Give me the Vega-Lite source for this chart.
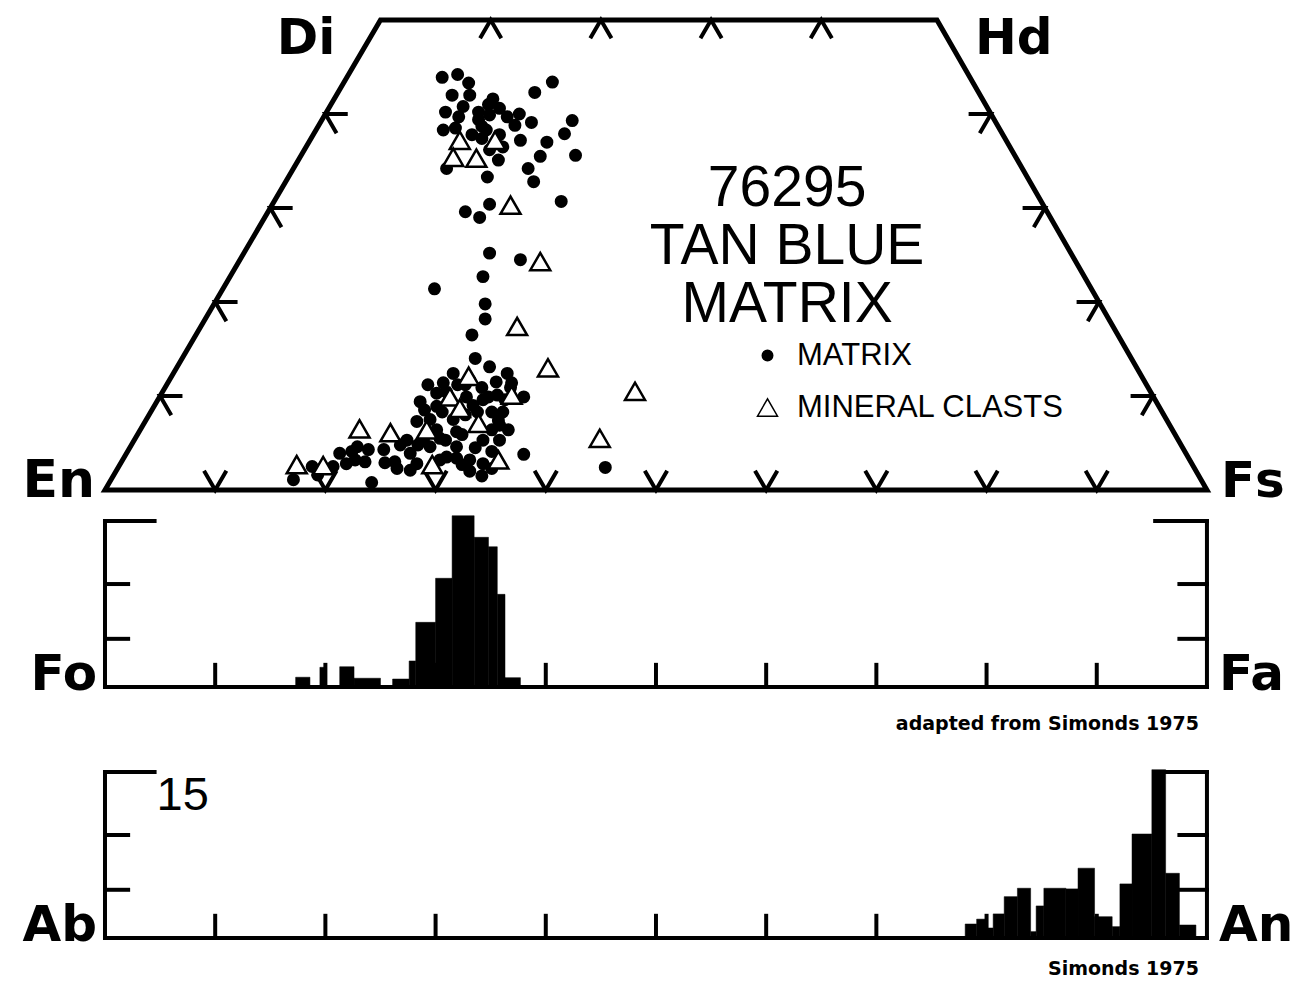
{
  "$schema": "https://vega.github.io/schema/vega-lite/v6.json",
  "width": 1308,
  "height": 982,
  "autosize": {"type": "none"},
  "padding": 0,
  "background": "white",
  "config": {"view": {"stroke": null}, "font": "Liberation Sans"},
  "datasets": {
    "quad": [
      {"x": 50, "Wo": 0, "o": 0}, {"x": 0, "Wo": 0, "o": 1}, {"x": 25, "Wo": 50, "o": 2},
      {"x": 75.5, "Wo": 50, "o": 3}, {"x": 100, "Wo": 0, "o": 4}, {"x": 50, "Wo": 0, "o": 5}
    ],
    "pyxticks": [
      {"x": 10, "Wo": 0, "side": "bottom"}, {"x": 20, "Wo": 0, "side": "bottom"}, {"x": 30, "Wo": 0, "side": "bottom"},
      {"x": 40, "Wo": 0, "side": "bottom"}, {"x": 50, "Wo": 0, "side": "bottom"}, {"x": 60, "Wo": 0, "side": "bottom"},
      {"x": 70, "Wo": 0, "side": "bottom"}, {"x": 80, "Wo": 0, "side": "bottom"}, {"x": 90, "Wo": 0, "side": "bottom"},
      {"x": 35, "Wo": 50, "side": "top"}, {"x": 45, "Wo": 50, "side": "top"}, {"x": 55, "Wo": 50, "side": "top"}, {"x": 65, "Wo": 50, "side": "top"},
      {"x": 5, "Wo": 10, "side": "left"}, {"x": 10, "Wo": 20, "side": "left"}, {"x": 15, "Wo": 30, "side": "left"}, {"x": 20, "Wo": 40, "side": "left"},
      {"x": 95.1, "Wo": 10, "side": "right"}, {"x": 90.2, "Wo": 20, "side": "right"}, {"x": 85.3, "Wo": 30, "side": "right"}, {"x": 80.4, "Wo": 40, "side": "right"}
    ],
    "pyx": [
      {"x": 30.6, "Wo": 43.9, "type": "MATRIX"}, {"x": 32.0, "Wo": 44.2, "type": "MATRIX"}, {"x": 33.0, "Wo": 43.3, "type": "MATRIX"},
      {"x": 40.6, "Wo": 43.4, "type": "MATRIX"}, {"x": 39.0, "Wo": 42.3, "type": "MATRIX"}, {"x": 35.2, "Wo": 41.6, "type": "MATRIX"},
      {"x": 30.9, "Wo": 40.2, "type": "MATRIX"}, {"x": 32.5, "Wo": 40.8, "type": "MATRIX"}, {"x": 32.1, "Wo": 39.7, "type": "MATRIX"},
      {"x": 33.9, "Wo": 40.2, "type": "MATRIX"}, {"x": 34.8, "Wo": 41.0, "type": "MATRIX"}, {"x": 34.9, "Wo": 39.9, "type": "MATRIX"},
      {"x": 36.5, "Wo": 39.7, "type": "MATRIX"}, {"x": 37.6, "Wo": 40.0, "type": "MATRIX"}, {"x": 38.7, "Wo": 39.1, "type": "MATRIX"},
      {"x": 42.4, "Wo": 39.3, "type": "MATRIX"}, {"x": 41.7, "Wo": 37.9, "type": "MATRIX"}, {"x": 30.7, "Wo": 38.3, "type": "MATRIX"},
      {"x": 34.2, "Wo": 38.7, "type": "MATRIX"}, {"x": 34.2, "Wo": 37.4, "type": "MATRIX"}, {"x": 35.8, "Wo": 37.8, "type": "MATRIX"},
      {"x": 36.1, "Wo": 36.5, "type": "MATRIX"}, {"x": 40.1, "Wo": 37.0, "type": "MATRIX"}, {"x": 39.5, "Wo": 35.5, "type": "MATRIX"},
      {"x": 42.7, "Wo": 35.6, "type": "MATRIX"}, {"x": 31.0, "Wo": 34.2, "type": "MATRIX"}, {"x": 35.7, "Wo": 35.1, "type": "MATRIX"},
      {"x": 34.7, "Wo": 33.3, "type": "MATRIX"}, {"x": 38.4, "Wo": 34.2, "type": "MATRIX"}, {"x": 38.9, "Wo": 32.8, "type": "MATRIX"},
      {"x": 32.7, "Wo": 29.6, "type": "MATRIX"}, {"x": 34.0, "Wo": 29.0, "type": "MATRIX"}, {"x": 34.9, "Wo": 30.4, "type": "MATRIX"},
      {"x": 41.4, "Wo": 30.7, "type": "MATRIX"}, {"x": 34.6, "Wo": 38.3, "type": "MATRIX"}, {"x": 33.9, "Wo": 39.4, "type": "MATRIX"},
      {"x": 31.5, "Wo": 42.0, "type": "MATRIX"}, {"x": 33.1, "Wo": 42.0, "type": "MATRIX"}, {"x": 35.8, "Wo": 40.6, "type": "MATRIX"},
      {"x": 37.2, "Wo": 38.8, "type": "MATRIX"}, {"x": 31.8, "Wo": 38.5, "type": "MATRIX"}, {"x": 33.3, "Wo": 37.8, "type": "MATRIX"},
      {"x": 34.9, "Wo": 36.2, "type": "MATRIX"}, {"x": 37.7, "Wo": 37.2, "type": "MATRIX"},
      {"x": 34.9, "Wo": 25.2, "type": "MATRIX"}, {"x": 37.7, "Wo": 24.5, "type": "MATRIX"}, {"x": 34.3, "Wo": 22.7, "type": "MATRIX"},
      {"x": 29.9, "Wo": 21.4, "type": "MATRIX"}, {"x": 34.5, "Wo": 19.8, "type": "MATRIX"}, {"x": 34.5, "Wo": 18.2, "type": "MATRIX"},
      {"x": 33.3, "Wo": 16.5, "type": "MATRIX"}, {"x": 33.6, "Wo": 14.0, "type": "MATRIX"}, {"x": 34.9, "Wo": 13.1, "type": "MATRIX"},
      {"x": 17.1, "Wo": 1.1, "type": "MATRIX"}, {"x": 18.8, "Wo": 2.5, "type": "MATRIX"}, {"x": 21.3, "Wo": 3.9, "type": "MATRIX"},
      {"x": 22.4, "Wo": 4.1, "type": "MATRIX"}, {"x": 23.9, "Wo": 4.3, "type": "MATRIX"}, {"x": 21.9, "Wo": 2.8, "type": "MATRIX"},
      {"x": 20.7, "Wo": 2.5, "type": "MATRIX"}, {"x": 24.2, "Wo": 0.8, "type": "MATRIX"}, {"x": 25.3, "Wo": 4.3, "type": "MATRIX"},
      {"x": 26.3, "Wo": 3.0, "type": "MATRIX"}, {"x": 27.4, "Wo": 5.3, "type": "MATRIX"}, {"x": 28.3, "Wo": 7.3, "type": "MATRIX"},
      {"x": 28.6, "Wo": 9.4, "type": "MATRIX"}, {"x": 29.5, "Wo": 7.5, "type": "MATRIX"}, {"x": 30.1, "Wo": 6.4, "type": "MATRIX"},
      {"x": 27.7, "Wo": 3.9, "type": "MATRIX"}, {"x": 28.3, "Wo": 2.8, "type": "MATRIX"}, {"x": 31.0, "Wo": 3.5, "type": "MATRIX"},
      {"x": 31.9, "Wo": 4.6, "type": "MATRIX"}, {"x": 30.7, "Wo": 11.4, "type": "MATRIX"}, {"x": 31.6, "Wo": 12.4, "type": "MATRIX"},
      {"x": 30.1, "Wo": 10.3, "type": "MATRIX"}, {"x": 30.1, "Wo": 8.9, "type": "MATRIX"}, {"x": 33.1, "Wo": 3.2, "type": "MATRIX"},
      {"x": 33.1, "Wo": 2.0, "type": "MATRIX"}, {"x": 34.3, "Wo": 5.3, "type": "MATRIX"}, {"x": 34.3, "Wo": 2.8, "type": "MATRIX"},
      {"x": 31.6, "Wo": 7.5, "type": "MATRIX"}, {"x": 32.8, "Wo": 9.9, "type": "MATRIX"}, {"x": 34.3, "Wo": 9.6, "type": "MATRIX"},
      {"x": 36.5, "Wo": 12.4, "type": "MATRIX"}, {"x": 35.5, "Wo": 11.5, "type": "MATRIX"}, {"x": 38.0, "Wo": 9.9, "type": "MATRIX"},
      {"x": 34.8, "Wo": 9.9, "type": "MATRIX"}, {"x": 33.4, "Wo": 9.0, "type": "MATRIX"}, {"x": 35.1, "Wo": 8.3, "type": "MATRIX"},
      {"x": 36.1, "Wo": 8.3, "type": "MATRIX"}, {"x": 35.8, "Wo": 6.9, "type": "MATRIX"}, {"x": 30.4, "Wo": 3.2, "type": "MATRIX"},
      {"x": 35.1, "Wo": 4.1, "type": "MATRIX"}, {"x": 35.1, "Wo": 2.3, "type": "MATRIX"}, {"x": 38.0, "Wo": 3.8, "type": "MATRIX"},
      {"x": 45.4, "Wo": 2.4, "type": "MATRIX"}, {"x": 29.5, "Wo": 4.6, "type": "MATRIX"}, {"x": 28.9, "Wo": 5.3, "type": "MATRIX"},
      {"x": 30.4, "Wo": 5.5, "type": "MATRIX"}, {"x": 26.5, "Wo": 2.3, "type": "MATRIX"}, {"x": 22.7, "Wo": 3.2, "type": "MATRIX"},
      {"x": 19.3, "Wo": 1.6, "type": "MATRIX"}, {"x": 31.9, "Wo": 6.2, "type": "MATRIX"}, {"x": 32.7, "Wo": 11.2, "type": "MATRIX"},
      {"x": 36.8, "Wo": 10.9, "type": "MATRIX"},
      {"x": 29.3, "Wo": 11.2, "type": "MATRIX"}, {"x": 31.0, "Wo": 10.4, "type": "MATRIX"}, {"x": 32.0, "Wo": 11.2, "type": "MATRIX"},
      {"x": 33.1, "Wo": 11.7, "type": "MATRIX"}, {"x": 34.2, "Wo": 10.9, "type": "MATRIX"}, {"x": 35.6, "Wo": 10.1, "type": "MATRIX"},
      {"x": 36.3, "Wo": 9.6, "type": "MATRIX"}, {"x": 36.9, "Wo": 11.4, "type": "MATRIX"}, {"x": 29.0, "Wo": 8.5, "type": "MATRIX"},
      {"x": 30.6, "Wo": 8.3, "type": "MATRIX"}, {"x": 32.7, "Wo": 8.0, "type": "MATRIX"}, {"x": 33.8, "Wo": 8.3, "type": "MATRIX"},
      {"x": 35.7, "Wo": 7.4, "type": "MATRIX"}, {"x": 36.6, "Wo": 6.4, "type": "MATRIX"}, {"x": 30.9, "Wo": 5.3, "type": "MATRIX"},
      {"x": 32.4, "Wo": 5.9, "type": "MATRIX"}, {"x": 33.6, "Wo": 4.5, "type": "MATRIX"}, {"x": 35.8, "Wo": 5.3, "type": "MATRIX"},
      {"x": 32.4, "Wo": 2.7, "type": "MATRIX"}, {"x": 34.2, "Wo": 1.5, "type": "MATRIX"}, {"x": 31.9, "Wo": 3.4, "type": "MATRIX"},
      {"x": 28.4, "Wo": 4.8, "type": "MATRIX"}, {"x": 26.8, "Wo": 4.8, "type": "MATRIX"}, {"x": 25.4, "Wo": 2.9, "type": "MATRIX"},
      {"x": 23.6, "Wo": 3.0, "type": "MATRIX"}, {"x": 22.9, "Wo": 4.6, "type": "MATRIX"}, {"x": 27.7, "Wo": 2.1, "type": "MATRIX"},
      {"x": 35.1, "Wo": 6.4, "type": "MATRIX"},
      {"x": 32.2, "Wo": 37.2, "type": "MINERAL CLASTS"}, {"x": 31.6, "Wo": 35.4, "type": "MINERAL CLASTS"}, {"x": 33.7, "Wo": 35.3, "type": "MINERAL CLASTS"},
      {"x": 35.4, "Wo": 37.2, "type": "MINERAL CLASTS"}, {"x": 36.8, "Wo": 30.3, "type": "MINERAL CLASTS"}, {"x": 39.5, "Wo": 24.3, "type": "MINERAL CLASTS"},
      {"x": 37.4, "Wo": 17.4, "type": "MINERAL CLASTS"}, {"x": 40.2, "Wo": 13.0, "type": "MINERAL CLASTS"}, {"x": 17.4, "Wo": 2.7, "type": "MINERAL CLASTS"},
      {"x": 19.8, "Wo": 2.6, "type": "MINERAL CLASTS"}, {"x": 23.1, "Wo": 6.5, "type": "MINERAL CLASTS"}, {"x": 25.9, "Wo": 6.1, "type": "MINERAL CLASTS"},
      {"x": 29.2, "Wo": 6.4, "type": "MINERAL CLASTS"}, {"x": 29.7, "Wo": 2.7, "type": "MINERAL CLASTS"}, {"x": 33.0, "Wo": 12.1, "type": "MINERAL CLASTS"},
      {"x": 31.3, "Wo": 9.9, "type": "MINERAL CLASTS"}, {"x": 32.2, "Wo": 8.7, "type": "MINERAL CLASTS"}, {"x": 33.9, "Wo": 7.1, "type": "MINERAL CLASTS"},
      {"x": 48.1, "Wo": 10.5, "type": "MINERAL CLASTS"}, {"x": 44.9, "Wo": 5.5, "type": "MINERAL CLASTS"}, {"x": 36.9, "Wo": 10.1, "type": "MINERAL CLASTS"},
      {"x": 35.7, "Wo": 3.2, "type": "MINERAL CLASTS"}
    ],
    "ol_bins": [
      {"a": 17.3, "b": 18.6, "n": 0.88}, {"a": 19.5, "b": 20.0, "n": 1.78}, {"a": 21.3, "b": 22.6, "n": 1.83},
      {"a": 22.6, "b": 25.0, "n": 0.79}, {"a": 26.1, "b": 27.6, "n": 0.72}, {"a": 27.6, "b": 28.2, "n": 2.35},
      {"a": 28.2, "b": 30.0, "n": 5.84}, {"a": 30.0, "b": 31.5, "n": 9.82}, {"a": 31.5, "b": 33.5, "n": 15.47},
      {"a": 33.5, "b": 34.8, "n": 13.52}, {"a": 34.8, "b": 35.6, "n": 12.67}, {"a": 35.6, "b": 36.3, "n": 8.37},
      {"a": 36.3, "b": 37.7, "n": 0.84}
    ],
    "pl_bins": [
      {"a": 78.06, "b": 79.1, "n": 1.26}, {"a": 79.1, "b": 80.0, "n": 1.7}, {"a": 80.0, "b": 80.6, "n": 0.9},
      {"a": 80.6, "b": 81.6, "n": 2.17}, {"a": 81.6, "b": 82.8, "n": 3.73}, {"a": 82.8, "b": 84.0, "n": 4.49},
      {"a": 84.0, "b": 84.5, "n": 0.57}, {"a": 84.5, "b": 85.2, "n": 2.89}, {"a": 85.2, "b": 87.2, "n": 4.49},
      {"a": 87.2, "b": 88.3, "n": 4.43}, {"a": 88.3, "b": 89.8, "n": 6.3}, {"a": 89.8, "b": 91.4, "n": 1.92},
      {"a": 91.4, "b": 92.1, "n": 1.02}, {"a": 92.1, "b": 93.2, "n": 4.88}, {"a": 93.2, "b": 95.0, "n": 9.39},
      {"a": 95.0, "b": 96.25, "n": 15.2}, {"a": 96.25, "b": 97.5, "n": 5.84}, {"a": 97.5, "b": 99.0, "n": 1.17}
    ],
    "frame": [
      {"x": 0, "y": 0, "x2": 100, "y2": 0}, {"x": 0, "y": 0, "x2": 0, "y2": 15}, {"x": 0, "y": 15, "x2": 4.5, "y2": 15},
      {"x": 0, "y": 4.35, "x2": 2.1, "y2": 4.35}, {"x": 0, "y": 9.3, "x2": 2.1, "y2": 9.3},
      {"x": 100, "y": 0, "x2": 100, "y2": 15}, {"x": 95.3, "y": 15, "x2": 100, "y2": 15},
      {"x": 97.5, "y": 4.35, "x2": 100, "y2": 4.35}, {"x": 97.5, "y": 9.3, "x2": 100, "y2": 9.3},
      {"x": 10, "y": 0, "x2": 10, "y2": 2}, {"x": 20, "y": 0, "x2": 20, "y2": 2}, {"x": 30, "y": 0, "x2": 30, "y2": 2},
      {"x": 40, "y": 0, "x2": 40, "y2": 2}, {"x": 50, "y": 0, "x2": 50, "y2": 2}, {"x": 60, "y": 0, "x2": 60, "y2": 2},
      {"x": 70, "y": 0, "x2": 70, "y2": 2}, {"x": 80, "y": 0, "x2": 80, "y2": 2}, {"x": 90, "y": 0, "x2": 90, "y2": 2}
    ]
  },
  "layer": [
    {
      "layer": [
        {
          "data": {"name": "quad"},
          "mark": {"type": "line", "color": "black", "strokeWidth": 5, "strokeJoin": "miter"},
          "encoding": {
            "x": {"field": "x", "type": "quantitative", "scale": {"domain": [-9.528, 109.17], "nice": false, "zero": false}, "axis": null},
            "y": {"field": "Wo", "type": "quantitative", "scale": {"domain": [-52.34, 52.128], "nice": false, "zero": false}, "axis": null},
            "order": {"field": "o", "type": "quantitative"}
          }
        },
        {
          "data": {"name": "pyxticks"},
          "transform": [{"filter": "datum.side == 'bottom'"}],
          "mark": {"type": "point", "shape": "M -0.5 -0.866 L 0 0 L 0.5 -0.866", "size": 2000, "filled": false, "stroke": "black", "strokeWidth": 4, "opacity": 1},
          "encoding": {
            "x": {"field": "x", "type": "quantitative", "scale": {"domain": [-9.528, 109.17], "nice": false, "zero": false}, "axis": null},
            "y": {"field": "Wo", "type": "quantitative", "scale": {"domain": [-52.34, 52.128], "nice": false, "zero": false}, "axis": null}
          }
        },
        {
          "data": {"name": "pyxticks"},
          "transform": [{"filter": "datum.side == 'top'"}],
          "mark": {"type": "point", "shape": "M -0.5 0.866 L 0 0 L 0.5 0.866", "size": 1800, "filled": false, "stroke": "black", "strokeWidth": 4, "opacity": 1},
          "encoding": {
            "x": {"field": "x", "type": "quantitative", "scale": {"domain": [-9.528, 109.17], "nice": false, "zero": false}, "axis": null},
            "y": {"field": "Wo", "type": "quantitative", "scale": {"domain": [-52.34, 52.128], "nice": false, "zero": false}, "axis": null}
          }
        },
        {
          "data": {"name": "pyxticks"},
          "transform": [{"filter": "datum.side == 'left'"}],
          "mark": {"type": "point", "shape": "M 1 0 L 0 0 L 0.5 0.866", "size": 2000, "filled": false, "stroke": "black", "strokeWidth": 4, "opacity": 1},
          "encoding": {
            "x": {"field": "x", "type": "quantitative", "scale": {"domain": [-9.528, 109.17], "nice": false, "zero": false}, "axis": null},
            "y": {"field": "Wo", "type": "quantitative", "scale": {"domain": [-52.34, 52.128], "nice": false, "zero": false}, "axis": null}
          }
        },
        {
          "data": {"name": "pyxticks"},
          "transform": [{"filter": "datum.side == 'right'"}],
          "mark": {"type": "point", "shape": "M -1 0 L 0 0 L -0.5 0.866", "size": 2000, "filled": false, "stroke": "black", "strokeWidth": 4, "opacity": 1},
          "encoding": {
            "x": {"field": "x", "type": "quantitative", "scale": {"domain": [-9.528, 109.17], "nice": false, "zero": false}, "axis": null},
            "y": {"field": "Wo", "type": "quantitative", "scale": {"domain": [-52.34, 52.128], "nice": false, "zero": false}, "axis": null}
          }
        },
        {
          "data": {"name": "pyx"},
          "mark": {"type": "point", "filled": true, "opacity": 1},
          "encoding": {
            "x": {"field": "x", "type": "quantitative", "scale": {"domain": [-9.528, 109.17], "nice": false, "zero": false}, "axis": null},
            "y": {"field": "Wo", "type": "quantitative", "scale": {"domain": [-52.34, 52.128], "nice": false, "zero": false}, "axis": null},
            "stroke": {"value": "black"},
            "strokeWidth": {"value": 2.5},
            "shape": {"field": "type", "type": "nominal", "scale": {"domain": ["MATRIX", "MINERAL CLASTS"], "range": ["circle", "triangle-up"]},
              "legend": {"title": null, "orient": "none", "legendX": 752, "legendY": 340, "labelFontSize": 31, "labelFont": "Liberation Sans", "labelColor": "black", "labelOffset": 14, "labelLimit": 500, "rowPadding": 20,
                "encode": {"symbols": {"update": {"stroke": {"value": "black"}, "strokeWidth": {"value": 3}}}}}},
            "fill": {"field": "type", "type": "nominal", "scale": {"domain": ["MATRIX", "MINERAL CLASTS"], "range": ["black", "white"]},
              "legend": {"title": null, "orient": "none", "legendX": 752, "legendY": 340, "labelFontSize": 31, "labelFont": "Liberation Sans", "labelColor": "black", "labelOffset": 14, "labelLimit": 500, "rowPadding": 20,
                "encode": {"symbols": {"update": {"stroke": {"value": "black"}, "strokeWidth": {"value": 3}}}}}},
            "size": {"field": "type", "type": "nominal", "scale": {"domain": ["MATRIX", "MINERAL CLASTS"], "range": [110, 400]},
              "legend": {"title": null, "orient": "none", "legendX": 752, "legendY": 340, "labelFontSize": 31, "labelFont": "Liberation Sans", "labelColor": "black", "labelOffset": 14, "labelLimit": 500, "rowPadding": 20,
                "encode": {"symbols": {"update": {"stroke": {"value": "black"}, "strokeWidth": {"value": 3}}}}}}
          }
        },
        {
          "data": {"values": [{"t": "title"}]},
          "mark": {"type": "text", "text": ["76295", "TAN BLUE", "MATRIX"], "align": "center", "baseline": "alphabetic", "fontSize": 57, "lineHeight": 58, "font": "Liberation Sans", "color": "black"},
          "encoding": {
            "x": {"datum": 61.9, "type": "quantitative", "scale": {"domain": [-9.528, 109.17], "nice": false, "zero": false}, "axis": null},
            "y": {"datum": 30.2, "type": "quantitative", "scale": {"domain": [-52.34, 52.128], "nice": false, "zero": false}, "axis": null}
          }
        },
        {
          "data": {"values": [{"label": "En"}]},
          "mark": {"type": "text", "align": "right", "baseline": "alphabetic", "dx": -10, "dy": 7, "fontSize": 52, "fontWeight": "bold", "font": "DejaVu Sans", "color": "black"},
          "encoding": {
            "text": {"field": "label"},
            "x": {"datum": 0, "type": "quantitative", "scale": {"domain": [-9.528, 109.17], "nice": false, "zero": false}, "axis": null},
            "y": {"datum": 0, "type": "quantitative", "scale": {"domain": [-52.34, 52.128], "nice": false, "zero": false}, "axis": null}
          }
        },
        {
          "data": {"values": [{"label": "Fs"}]},
          "mark": {"type": "text", "align": "left", "baseline": "alphabetic", "dx": 14, "dy": 7, "fontSize": 50, "fontWeight": "bold", "font": "DejaVu Sans", "color": "black"},
          "encoding": {
            "text": {"field": "label"},
            "x": {"datum": 100, "type": "quantitative", "scale": {"domain": [-9.528, 109.17], "nice": false, "zero": false}, "axis": null},
            "y": {"datum": 0, "type": "quantitative", "scale": {"domain": [-52.34, 52.128], "nice": false, "zero": false}, "axis": null}
          }
        },
        {
          "data": {"values": [{"label": "Di"}]},
          "mark": {"type": "text", "align": "right", "baseline": "alphabetic", "dx": -45, "dy": 34, "fontSize": 50, "fontWeight": "bold", "font": "DejaVu Sans", "color": "black"},
          "encoding": {
            "text": {"field": "label"},
            "x": {"datum": 25, "type": "quantitative", "scale": {"domain": [-9.528, 109.17], "nice": false, "zero": false}, "axis": null},
            "y": {"datum": 50, "type": "quantitative", "scale": {"domain": [-52.34, 52.128], "nice": false, "zero": false}, "axis": null}
          }
        },
        {
          "data": {"values": [{"label": "Hd"}]},
          "mark": {"type": "text", "align": "left", "baseline": "alphabetic", "dx": 38, "dy": 34, "fontSize": 50, "fontWeight": "bold", "font": "DejaVu Sans", "color": "black"},
          "encoding": {
            "text": {"field": "label"},
            "x": {"datum": 75.5, "type": "quantitative", "scale": {"domain": [-9.528, 109.17], "nice": false, "zero": false}, "axis": null},
            "y": {"datum": 50, "type": "quantitative", "scale": {"domain": [-52.34, 52.128], "nice": false, "zero": false}, "axis": null}
          }
        }
      ]
    },
    {
      "layer": [
        {
          "data": {"name": "ol_bins"},
          "mark": {"type": "rect", "color": "black", "stroke": "black", "strokeWidth": 0.5},
          "encoding": {
            "x": {"field": "a", "type": "quantitative", "scale": {"domain": [-9.528, 109.17], "nice": false, "zero": false}, "axis": null},
            "x2": {"field": "b"},
            "y": {"field": "n", "type": "quantitative", "scale": {"domain": [-26.65, 62.06], "nice": false, "zero": false}, "axis": null},
            "y2": {"datum": 0}
          }
        },
        {
          "data": {"name": "frame"},
          "mark": {"type": "rule", "color": "black", "strokeWidth": 4, "strokeCap": "square"},
          "encoding": {
            "x": {"field": "x", "type": "quantitative", "scale": {"domain": [-9.528, 109.17], "nice": false, "zero": false}, "axis": null},
            "x2": {"field": "x2"},
            "y": {"field": "y", "type": "quantitative", "scale": {"domain": [-26.65, 62.06], "nice": false, "zero": false}, "axis": null},
            "y2": {"field": "y2"}
          }
        },
        {
          "data": {"values": [{"label": "Fo"}]},
          "mark": {"type": "text", "align": "right", "baseline": "alphabetic", "dx": -8, "dy": 3, "fontSize": 50, "fontWeight": "bold", "font": "DejaVu Sans", "color": "black"},
          "encoding": {
            "text": {"field": "label"},
            "x": {"datum": 0, "type": "quantitative", "scale": {"domain": [-9.528, 109.17], "nice": false, "zero": false}, "axis": null},
            "y": {"datum": 0, "type": "quantitative", "scale": {"domain": [-26.65, 62.06], "nice": false, "zero": false}, "axis": null}
          }
        },
        {
          "data": {"values": [{"label": "Fa"}]},
          "mark": {"type": "text", "align": "left", "baseline": "alphabetic", "dx": 12, "dy": 3, "fontSize": 50, "fontWeight": "bold", "font": "DejaVu Sans", "color": "black"},
          "encoding": {
            "text": {"field": "label"},
            "x": {"datum": 100, "type": "quantitative", "scale": {"domain": [-9.528, 109.17], "nice": false, "zero": false}, "axis": null},
            "y": {"datum": 0, "type": "quantitative", "scale": {"domain": [-26.65, 62.06], "nice": false, "zero": false}, "axis": null}
          }
        },
        {
          "data": {"values": [{"label": "adapted from Simonds 1975"}]},
          "mark": {"type": "text", "align": "right", "baseline": "alphabetic", "dx": -8, "dy": 43, "fontSize": 19, "fontWeight": "bold", "font": "DejaVu Sans", "color": "black"},
          "encoding": {
            "text": {"field": "label"},
            "x": {"datum": 100, "type": "quantitative", "scale": {"domain": [-9.528, 109.17], "nice": false, "zero": false}, "axis": null},
            "y": {"datum": 0, "type": "quantitative", "scale": {"domain": [-26.65, 62.06], "nice": false, "zero": false}, "axis": null}
          }
        }
      ]
    },
    {
      "layer": [
        {
          "data": {"name": "pl_bins"},
          "mark": {"type": "rect", "color": "black", "stroke": "black", "strokeWidth": 0.5},
          "encoding": {
            "x": {"field": "a", "type": "quantitative", "scale": {"domain": [-9.528, 109.17], "nice": false, "zero": false}, "axis": null},
            "x2": {"field": "b"},
            "y": {"field": "n", "type": "quantitative", "scale": {"domain": [-3.98, 84.73], "nice": false, "zero": false}, "axis": null},
            "y2": {"datum": 0}
          }
        },
        {
          "data": {"name": "frame"},
          "mark": {"type": "rule", "color": "black", "strokeWidth": 4, "strokeCap": "square"},
          "encoding": {
            "x": {"field": "x", "type": "quantitative", "scale": {"domain": [-9.528, 109.17], "nice": false, "zero": false}, "axis": null},
            "x2": {"field": "x2"},
            "y": {"field": "y", "type": "quantitative", "scale": {"domain": [-3.98, 84.73], "nice": false, "zero": false}, "axis": null},
            "y2": {"field": "y2"}
          }
        },
        {
          "data": {"values": [{"label": "Ab"}]},
          "mark": {"type": "text", "align": "right", "baseline": "alphabetic", "dx": -8, "dy": 3, "fontSize": 50, "fontWeight": "bold", "font": "DejaVu Sans", "color": "black"},
          "encoding": {
            "text": {"field": "label"},
            "x": {"datum": 0, "type": "quantitative", "scale": {"domain": [-9.528, 109.17], "nice": false, "zero": false}, "axis": null},
            "y": {"datum": 0, "type": "quantitative", "scale": {"domain": [-3.98, 84.73], "nice": false, "zero": false}, "axis": null}
          }
        },
        {
          "data": {"values": [{"label": "An"}]},
          "mark": {"type": "text", "align": "left", "baseline": "alphabetic", "dx": 12, "dy": 3, "fontSize": 50, "fontWeight": "bold", "font": "DejaVu Sans", "color": "black"},
          "encoding": {
            "text": {"field": "label"},
            "x": {"datum": 100, "type": "quantitative", "scale": {"domain": [-9.528, 109.17], "nice": false, "zero": false}, "axis": null},
            "y": {"datum": 0, "type": "quantitative", "scale": {"domain": [-3.98, 84.73], "nice": false, "zero": false}, "axis": null}
          }
        },
        {
          "data": {"values": [{"label": "15"}]},
          "mark": {"type": "text", "align": "left", "baseline": "alphabetic", "dx": 2, "dy": 38, "fontSize": 47, "font": "Liberation Sans", "color": "black"},
          "encoding": {
            "text": {"field": "label"},
            "x": {"datum": 4.5, "type": "quantitative", "scale": {"domain": [-9.528, 109.17], "nice": false, "zero": false}, "axis": null},
            "y": {"datum": 15, "type": "quantitative", "scale": {"domain": [-3.98, 84.73], "nice": false, "zero": false}, "axis": null}
          }
        },
        {
          "data": {"values": [{"label": "Simonds 1975"}]},
          "mark": {"type": "text", "align": "right", "baseline": "alphabetic", "dx": -8, "dy": 37, "fontSize": 19, "fontWeight": "bold", "font": "DejaVu Sans", "color": "black"},
          "encoding": {
            "text": {"field": "label"},
            "x": {"datum": 100, "type": "quantitative", "scale": {"domain": [-9.528, 109.17], "nice": false, "zero": false}, "axis": null},
            "y": {"datum": 0, "type": "quantitative", "scale": {"domain": [-3.98, 84.73], "nice": false, "zero": false}, "axis": null}
          }
        }
      ]
    }
  ],
  "resolve": {"scale": {"y": "independent"}}
}
